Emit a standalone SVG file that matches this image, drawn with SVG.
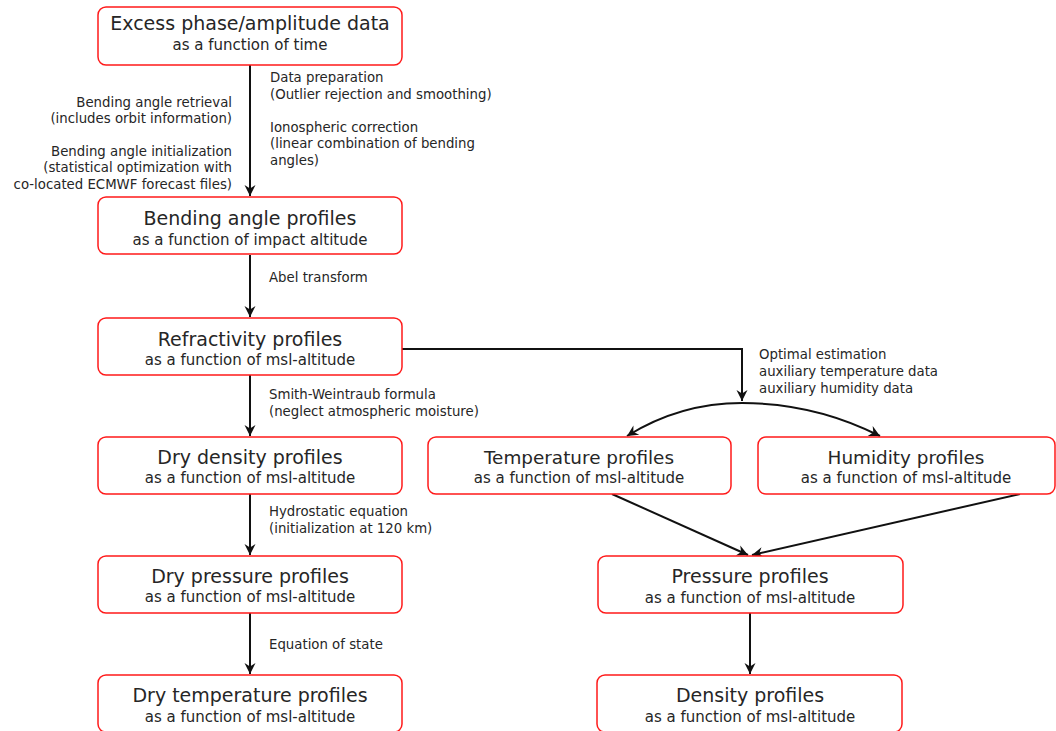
<svg xmlns="http://www.w3.org/2000/svg" width="1056" height="731" viewBox="0 0 1056 731">
<style>
.box{fill:#fff;stroke:#ff1a1a;stroke-width:1.5}
.t{font-family:"DejaVu Sans",sans-serif;font-size:19px;fill:#262626;text-anchor:middle}
.tr{font-family:"DejaVu Sans",sans-serif;font-size:18.4px;fill:#262626;text-anchor:middle}
.s{font-family:"DejaVu Sans",sans-serif;font-size:15px;fill:#262626;text-anchor:middle}
.l{font-family:"DejaVu Sans",sans-serif;font-size:13.3px;fill:#262626}
.le{font-family:"DejaVu Sans",sans-serif;font-size:13.3px;fill:#262626;text-anchor:end}
.c{fill:none;stroke:#111;stroke-width:2}
</style>
<defs>
<marker id="ah" viewBox="-12 -6 13 12" refX="0" refY="0" markerWidth="13" markerHeight="12" markerUnits="userSpaceOnUse" orient="auto">
<path d="M0,0 L-11,-5.5 L-7.5,0 L-11,5.5 z" fill="#111"/>
</marker>
</defs>
<rect width="1056" height="731" fill="#fff"/>
<g id="connectors">
<path class="c" d="M250,65 V196" marker-end="url(#ah)"/>
<path class="c" d="M250,255 V317" marker-end="url(#ah)"/>
<path class="c" d="M250,375 V436" marker-end="url(#ah)"/>
<path class="c" d="M250,494 V555" marker-end="url(#ah)"/>
<path class="c" d="M250,613 V674" marker-end="url(#ah)"/>
<path class="c" d="M402,349 H742 V401" marker-end="url(#ah)"/>
<path class="c" d="M742,403 Q680,403 627,436" marker-end="url(#ah)"/>
<path class="c" d="M742,403 Q815,403 880,436" marker-end="url(#ah)"/>
<path class="c" d="M612,494 L748,555" marker-end="url(#ah)"/>
<path class="c" d="M1020,494 L752,555" marker-end="url(#ah)"/>
<path class="c" d="M750,613 V674" marker-end="url(#ah)"/>
</g>
<g id="labels">
<text class="l" x="270" y="82">Data preparation</text>
<text class="l" x="270" y="99">(Outlier rejection and smoothing)</text>
<text class="l" x="270" y="132">Ionospheric correction</text>
<text class="l" x="270" y="148">(linear combination of bending</text>
<text class="l" x="270" y="165">angles)</text>
<text class="le" x="232" y="107">Bending angle retrieval</text>
<text class="le" x="232" y="123">(includes orbit information)</text>
<text class="le" x="232" y="156">Bending angle initialization</text>
<text class="le" x="232" y="172">(statistical optimization with</text>
<text class="le" x="232" y="189">co-located ECMWF forecast files)</text>
<text class="l" x="269" y="282">Abel transform</text>
<text class="l" x="269" y="399">Smith-Weintraub formula</text>
<text class="l" x="269" y="416">(neglect atmospheric moisture)</text>
<text class="l" x="269" y="516">Hydrostatic equation</text>
<text class="l" x="269" y="533">(initialization at 120 km)</text>
<text class="l" x="269" y="649">Equation of state</text>
<text class="l" x="759" y="359">Optimal estimation</text>
<text class="l" x="759" y="376">auxiliary temperature data</text>
<text class="l" x="759" y="393">auxiliary humidity data</text>
</g>
<g id="excess">
<rect class="box" x="98" y="7" width="304" height="58" rx="8"/>
<text class="t" x="250" y="30">Excess phase/amplitude data</text>
<text class="s" x="250" y="50">as a function of time</text>
</g>
<g id="bending">
<rect class="box" x="98" y="197" width="304" height="57" rx="8"/>
<text class="t" x="250" y="225">Bending angle profiles</text>
<text class="s" x="250" y="245">as a function of impact altitude</text>
</g>
<g id="refractivity">
<rect class="box" x="98" y="318" width="304" height="57" rx="8"/>
<text class="t" x="250" y="346">Refractivity profiles</text>
<text class="s" x="250" y="365">as a function of msl-altitude</text>
</g>
<g id="drydensity">
<rect class="box" x="98" y="437" width="304" height="57" rx="8"/>
<text class="t" x="250" y="464">Dry density profiles</text>
<text class="s" x="250" y="483">as a function of msl-altitude</text>
</g>
<g id="drypressure">
<rect class="box" x="98" y="556" width="304" height="57" rx="8"/>
<text class="t" x="250" y="583">Dry pressure profiles</text>
<text class="s" x="250" y="602">as a function of msl-altitude</text>
</g>
<g id="drytemperature">
<rect class="box" x="98" y="675" width="304" height="57" rx="8"/>
<text class="t" x="250" y="702">Dry temperature profiles</text>
<text class="s" x="250" y="722">as a function of msl-altitude</text>
</g>
<g id="temperature">
<rect class="box" x="428" y="437" width="303" height="57" rx="8"/>
<text class="tr" x="579" y="464">Temperature profiles</text>
<text class="s" x="579" y="483">as a function of msl-altitude</text>
</g>
<g id="humidity">
<rect class="box" x="758" y="437" width="297" height="57" rx="8"/>
<text class="tr" x="906" y="464">Humidity profiles</text>
<text class="s" x="906" y="483">as a function of msl-altitude</text>
</g>
<g id="pressure">
<rect class="box" x="598" y="556" width="305" height="57" rx="8"/>
<text class="t" x="750" y="583">Pressure profiles</text>
<text class="s" x="750" y="603">as a function of msl-altitude</text>
</g>
<g id="density">
<rect class="box" x="597" y="675" width="305" height="57" rx="8"/>
<text class="t" x="750" y="702">Density profiles</text>
<text class="s" x="750" y="722">as a function of msl-altitude</text>
</g>
</svg>
